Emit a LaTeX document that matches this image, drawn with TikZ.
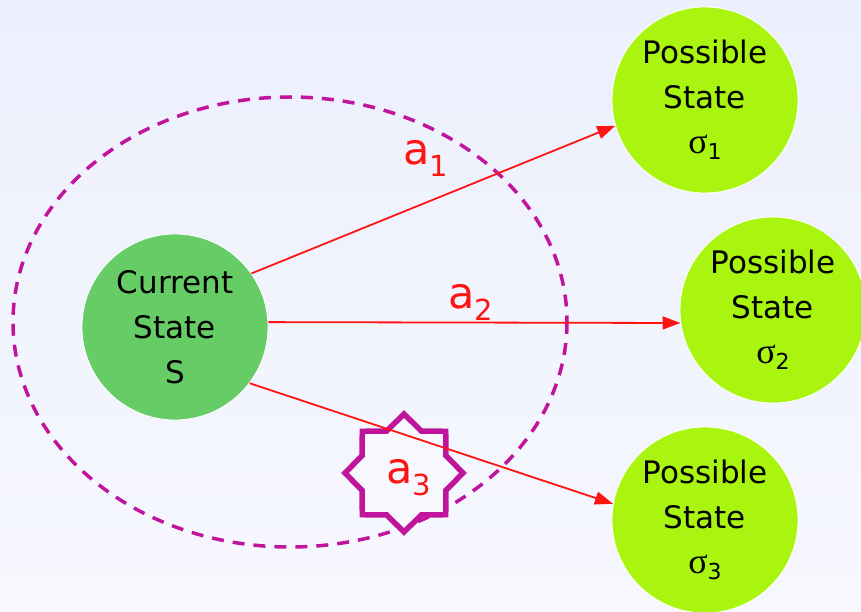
\documentclass[tikz,border=0pt]{standalone}
\usepackage{fontspec}
\setmainfont{DejaVu Sans}
\newfontfamily\sigfont{Liberation Serif}
\usetikzlibrary{arrows.meta,shapes.geometric}
\definecolor{ringpink}{RGB}{192,20,156}
\definecolor{curgreen}{RGB}{102,204,102}
\definecolor{possgreen}{RGB}{170,245,15}
\definecolor{arrowred}{RGB}{255,20,20}
\definecolor{bgtop}{RGB}{236,240,253}
\definecolor{bgbot}{RGB}{247,248,254}
\newcommand{\sig}[1]{{\sigfont\fontsize{36}{36}\selectfont σ}\raisebox{-6pt}{\fontsize{22}{22}\selectfont #1}}
\newcommand{\act}[1]{a\raisebox{-12pt}{\fontsize{29}{29}\selectfont #1}}
\tikzset{
  state/.style={circle, minimum size=186pt, inner sep=0pt, draw=white, line width=0.8pt,
    align=center, font=\fontsize{31}{45}\selectfont},
  current/.style={state, fill=curgreen},
  possible/.style={state, fill=possgreen},
  act/.style={draw=arrowred, line width=1.8pt, -{Triangle[length=18pt,width=13pt]}},
  lbl/.style={text=arrowred, anchor=base west, inner sep=0pt, font=\fontsize{43}{43}\selectfont},
  ring/.style={draw=ringpink, line width=3.5pt, dash pattern=on 12pt off 9pt},
  burst/.style={star, star points=8, star point ratio=1.3, minimum size=118pt, inner sep=0pt,
    draw=ringpink, line width=5.5pt, fill=bgbot},
}
\begin{document}
\begin{tikzpicture}[x=1pt,y=-1pt]
\shade[top color=bgtop, bottom color=bgbot] (0,0) rectangle (861,612);
\useasboundingbox (0,0) rectangle (861,612);
% reachable set
\draw[ring] (290,322) ellipse [x radius=277, y radius=225];
\node[burst] (star3) at (404,473) {};
% states
\node[current] (cur) at (175,327) {Current\\State\\S};
\node[possible] (ps1) at (705,100) {Possible\\State\\\sig{1}};
\node[possible] (ps2) at (773,310) {Possible\\State\\\sig{2}};
\node[possible] (ps3) at (705,520) {Possible\\State\\\sig{3}};
% actions
\draw[act] (cur.35) -- (ps1.196);
\draw[act] (cur.3) -- (ps2.188);
\draw[act] (cur.323) -- (ps3.170);
\node[lbl] (lab1) at (403,165) {\act{1}};
\node[lbl] (lab2) at (448,308) {\act{2}};
\node[lbl] (lab3) at (386,483) {\act{3}};
\end{tikzpicture}
\end{document}
